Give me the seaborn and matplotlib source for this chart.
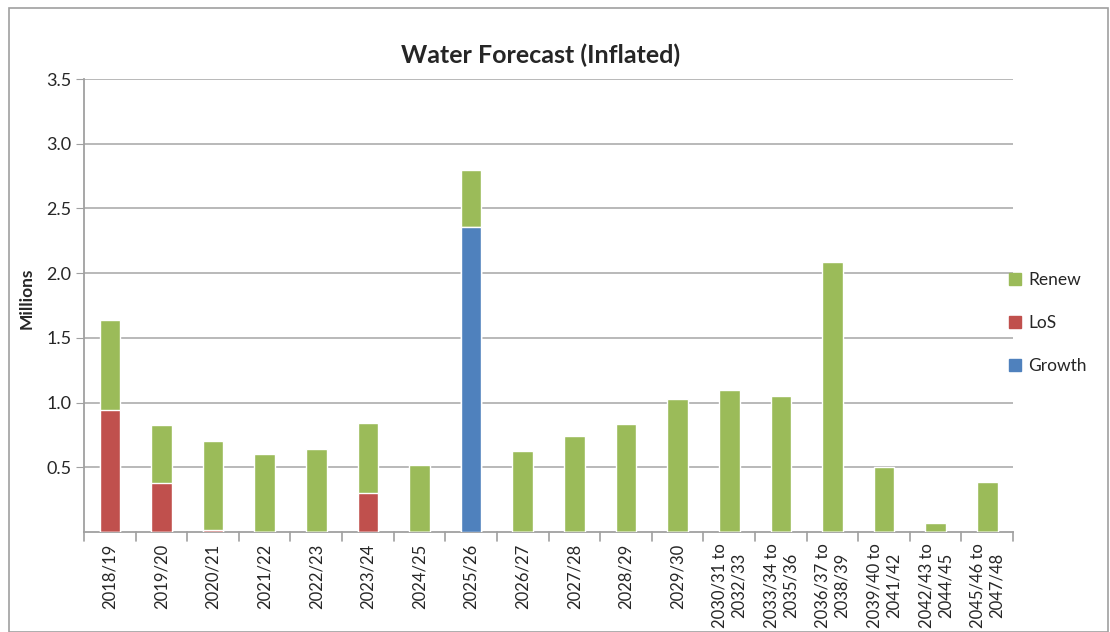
import pandas as pd
import matplotlib.pyplot as plt
import seaborn as sns
from matplotlib.patches import Patch, Rectangle

# Data (values in millions)
periods = ["2018/19", "2019/20", "2020/21", "2021/22", "2022/23", "2023/24",
           "2024/25", "2025/26", "2026/27", "2027/28", "2028/29", "2029/30",
           "2030/31 to\n2032/33", "2033/34 to\n2035/36", "2036/37 to\n2038/39",
           "2039/40 to\n2041/42", "2042/43 to\n2044/45", "2045/46 to\n2047/48"]
growth = [0, 0, 0, 0, 0, 0, 0, 2.36, 0, 0, 0, 0, 0, 0, 0, 0, 0, 0]
los = [0.945, 0.38, 0.02, 0, 0, 0.30, 0, 0, 0, 0, 0, 0, 0, 0, 0, 0, 0, 0]
renew = [0.695, 0.45, 0.685, 0.605, 0.64, 0.54, 0.52, 0.435, 0.625, 0.74,
         0.835, 1.025, 1.095, 1.05, 2.09, 0.50, 0.07, 0.39]

df = pd.DataFrame({"period": periods, "Growth": growth, "LoS": los, "Renew": renew})
df["LoS_top"] = df["Growth"] + df["LoS"]
df["Renew_top"] = df["LoS_top"] + df["Renew"]

colors = {"Renew": "#9BBB59", "LoS": "#C0504D", "Growth": "#4F81BD"}

sns.set_style("white")
plt.rcParams["font.family"] = ["Lato", "DejaVu Sans"]

fig = plt.figure(figsize=(11.1, 6.32), dpi=100)
ax = fig.add_axes([0.0757, 0.158, 0.837, 0.717])

# stacked bars drawn as overlapping cumulative layers
sns.barplot(data=df, x="period", y="Renew_top", color=colors["Renew"], width=0.4,
            saturation=1, ax=ax, zorder=3)
sns.barplot(data=df, x="period", y="LoS_top", color=colors["LoS"], width=0.4,
            saturation=1, ax=ax, zorder=3)
sns.barplot(data=df, x="period", y="Growth", color=colors["Growth"], width=0.4,
            saturation=1, ax=ax, zorder=3)

ax.set_xlim(-0.5, len(periods) - 0.5)
ax.set_ylim(0, 3.5)
yt = [0.5, 1.0, 1.5, 2.0, 2.5, 3.0, 3.5]
ax.set_yticks(yt)
ax.set_yticklabels([f"{v:.1f}" for v in yt], fontsize=13)
ax.yaxis.grid(True, color="#b3b3b3", linewidth=1.3, zorder=0)
ax.set_axisbelow(True)

ax.set_xticks(range(len(periods)))
ax.set_xticklabels(periods, rotation=90, fontsize=12, linespacing=1.25)
ax.tick_params(axis="x", length=0, pad=8)
ax.tick_params(axis="y", length=6, color="#a0a0a0", left=True, direction="out", pad=3)

# category boundary ticks on the x axis
for b in range(len(periods) + 1):
    ax.plot([b - 0.5, b - 0.5], [0, -0.07], color="#a0a0a0", lw=1.2,
            clip_on=False, transform=ax.transData)

for side in ["top", "right"]:
    ax.spines[side].set_visible(False)
for side in ["left", "bottom"]:
    ax.spines[side].set_color("#a0a0a0")
    ax.spines[side].set_linewidth(1.3)

ax.set_xlabel("")
ax.set_ylabel("")
ax.text(-0.062, 0.517, "Millions", transform=ax.transAxes, rotation=90,
        ha="center", va="center", fontsize=12.5, fontweight="bold")

fig.text(0.487, 0.912, "Water Forecast (Inflated)", ha="center", va="center",
         fontsize=18, fontweight="bold")

handles = [Patch(color=colors[k]) for k in ["Renew", "LoS", "Growth"]]
fig.legend(handles, ["Renew", "LoS", "Growth"], loc="center left",
           bbox_to_anchor=(0.909, 0.489), frameon=False, fontsize=12.5,
           borderpad=0, borderaxespad=0,
           handlelength=0.7, handleheight=0.7, handletextpad=0.4, labelspacing=1.55)

# outer chart border
fig.patches.append(Rectangle((0.008, 0.0), 0.99, 0.988, transform=fig.transFigure,
                             fill=False, edgecolor="#a0a0a0", lw=1.2))

fig.savefig("out.png", dpi=100)
